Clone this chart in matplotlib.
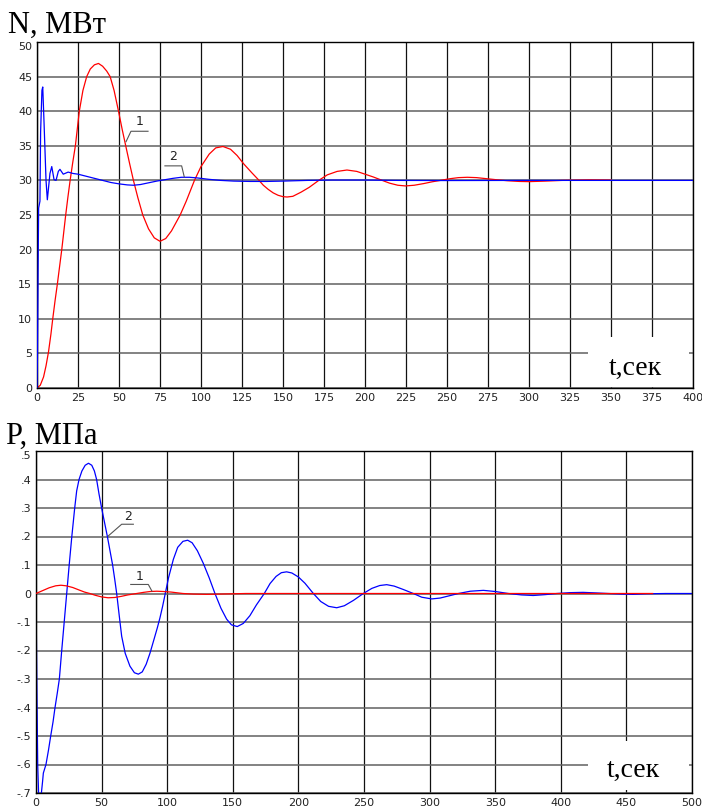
import matplotlib
matplotlib.use("Agg")
import matplotlib.pyplot as plt
from matplotlib.patches import Rectangle

# ---------------- data: top panel (N, MW) ----------------
n_x_ticks = list(range(0, 401, 25))
n_y_ticks = list(range(0, 51, 5))

n1_t = [0, 2, 4, 5.5, 7, 8.5, 9.6, 11, 12.4, 13.8, 15.1, 16.3, 17.5, 18.8, 20.2, 21.8,
        23.4, 24.6, 25.8, 28, 30.3, 32.5, 35, 37.5, 40, 42.5, 44.6, 47, 49.7, 52, 54.1,
        56.5, 58.8, 61.5, 64.5, 68, 71.5, 75, 78.5, 82, 87.3, 91, 96, 100, 105, 109,
        113.4, 118, 122, 126, 131, 135, 138, 141, 144, 147, 150, 152.5, 156, 161, 166,
        171.8, 177, 183, 189, 195, 200, 205, 210.5, 215, 220, 224.7, 230, 236, 241, 246,
        252, 257, 262.4, 268, 274, 280, 287, 294, 300, 310, 320, 337, 350]
n1_v = [0, 0.4, 1.6, 3.2, 5.2, 7.8, 10, 12.6, 15, 17.6, 20, 22.5, 25, 27.5, 30, 32.6,
        35, 37.5, 40, 43, 45, 46.1, 46.7, 46.9, 46.5, 45.8, 45.0, 43.0, 40.0, 37.3, 35.0,
        32.4, 30.0, 27.5, 25.0, 23.0, 21.7, 21.2, 21.6, 22.7, 25.0, 27.0, 30.0, 32.0,
        33.8, 34.7, 34.9, 34.5, 33.6, 32.4, 31.1, 30.1, 29.3, 28.7, 28.2, 27.85, 27.65,
        27.6, 27.7, 28.3, 29.0, 30.0, 30.8, 31.3, 31.5, 31.3, 30.9, 30.5, 30.0, 29.6,
        29.3, 29.2, 29.3, 29.55, 29.8, 30.0, 30.25, 30.4, 30.45, 30.4, 30.25, 30.1, 29.95,
        29.85, 29.82, 29.9, 30.0, 30.08, 30.05]

n2_t = [0, 0.3, 0.7, 1.0, 1.8, 2.2, 3.0, 3.5, 4.3, 5.5, 6.3, 7.9, 9.0, 10.4, 11.6, 13.0,
        14.0, 16.0, 19.0, 22, 25, 30, 35, 40, 45, 50, 55, 58.8, 63, 68, 73, 78, 83, 88,
        93, 98, 105, 112, 120, 130, 140, 150, 165, 180, 200, 220, 250, 300, 350, 400]
n2_v = [0, 5, 18, 26, 27, 37, 43, 43.5, 38.3, 30, 27.2, 31, 32, 30.1, 30, 31.3,
        31.6, 30.9, 31.2, 31.0, 30.9, 30.6, 30.3, 30.0, 29.7, 29.5, 29.35, 29.3, 29.4,
        29.65, 29.9, 30.1, 30.3, 30.45, 30.45, 30.35, 30.15, 30.0, 29.9, 29.85, 29.85,
        29.9, 30.0, 30.05, 30.05, 30.0, 29.98, 30.0, 30.0, 30.0]

# ---------------- data: bottom panel (P, MPa) ----------------
p_x_ticks = list(range(0, 501, 50))
p_y_ticks = [0.5, 0.4, 0.3, 0.2, 0.1, 0.0, -0.1, -0.2, -0.3, -0.4, -0.5, -0.6, -0.7]
p_y_labels = [".5", ".4", ".3", ".2", ".1", "0", "-.1", "-.2", "-.3", "-.4", "-.5", "-.6", "-.7"]

p1_t = [0, 5, 10, 15, 19, 23, 28, 33, 37, 41, 45, 50, 55, 60, 65, 70, 76.7, 82, 87, 92,
        97, 103, 112, 120, 130, 140, 160, 200, 300, 400, 470]
p1_v = [0, 0.01, 0.02, 0.027, 0.029, 0.027, 0.021, 0.012, 0.005, 0.0, -0.006, -0.012,
        -0.015, -0.014, -0.010, -0.005, 0.0, 0.004, 0.007, 0.008, 0.007, 0.005, 0.0,
        -0.002, -0.003, -0.002, 0.0, 0.0, 0.0, 0.0, 0.0]

p2_t = [0, 0.6, 1.3, 2.0, 4.0, 5.0, 5.6, 7.6, 9.5, 11.2, 13, 14.5, 16.2, 17.8, 19.6,
        21.5, 23.4, 25.3, 27.3, 29.5, 31, 32.8, 35, 37.5, 40, 42.5, 44.5, 46.2, 48, 50,
        52.2, 54.4, 56.4, 58.4, 60, 61.5, 63.5, 65.3, 68, 71.6, 75, 78, 81, 84, 86.9, 90,
        92.5, 94.5, 96.5, 98.3, 101, 104.7, 108, 112, 115.6, 119, 123, 127.5, 132, 136.4,
        141, 145.3, 149, 153.4, 158, 163, 168, 174, 178.4, 183, 187, 191, 195, 200, 205,
        211.4, 217, 223, 229.2, 235, 242, 249.5, 256, 262, 267.3, 273, 280, 287.6, 294,
        301.6, 308, 315, 322, 331, 341, 350, 360, 370, 379, 388, 397, 407, 417, 427, 436,
        446, 455, 465, 480, 500]
p2_v = [0, -0.3, -0.6, -0.705, -0.705, -0.66, -0.63, -0.60, -0.55, -0.50, -0.45, -0.40,
        -0.35, -0.30, -0.20, -0.10, 0.0, 0.10, 0.20, 0.30, 0.36, 0.40, 0.43, 0.45, 0.457,
        0.45, 0.43, 0.40, 0.35, 0.30, 0.25, 0.20, 0.15, 0.10, 0.05, 0.0, -0.08, -0.15,
        -0.21, -0.255, -0.278, -0.283, -0.275, -0.248, -0.209, -0.16, -0.12, -0.085,
        -0.045, -0.005, 0.055, 0.12, 0.162, 0.183, 0.187, 0.178, 0.150, 0.106, 0.055, 0.0,
        -0.052, -0.09, -0.11, -0.116, -0.105, -0.078, -0.04, 0.0, 0.035, 0.06, 0.073,
        0.076, 0.072, 0.058, 0.036, 0.0, -0.028, -0.045, -0.05, -0.043, -0.024, 0.0, 0.018,
        0.028, 0.031, 0.026, 0.014, 0.0, -0.013, -0.019, -0.016, -0.008, 0.0, 0.008, 0.011,
        0.007, 0.0, -0.005, -0.007, -0.004, 0.0, 0.003, 0.004, 0.002, 0.0, -0.002, -0.003,
        -0.001, 0.0, 0.0]

# ---------------- figure ----------------
W, H = 702, 809
fig = plt.figure(figsize=(W / 100, H / 100), dpi=100)
fig.patch.set_facecolor("white")


def fx(px):
    return px / W


def fy(py):
    return 1 - py / H


def style_axes(ax):
    ax.set_axisbelow(True)
    ax.xaxis.grid(True, color="#111111", lw=0.9)
    ax.yaxis.grid(True, color="#606060", lw=1.1)
    for s in ax.spines.values():
        s.set_color("black")
        s.set_linewidth(1.0)
    ax.tick_params(length=0, pad=3.5, labelsize=8, labelcolor="#222222")
    for lab in ax.get_xticklabels() + ax.get_yticklabels():
        lab.set_family("DejaVu Sans")


# ---- top panel ----
ax1 = fig.add_axes([fx(37), fy(388), fx(693) - fx(37), fy(42) - fy(388)])
ax1.plot(n1_t, n1_v, color="#ff0000", lw=0.9, zorder=2)
ax1.plot(n2_t, n2_v, color="#0000ff", lw=0.9, zorder=3)
ax1.set_xlim(0, 400)
ax1.set_ylim(0, 50)
ax1.set_xticks(n_x_ticks)
ax1.set_yticks(n_y_ticks)
style_axes(ax1)
ax1.get_yticklabels()[-1].set_verticalalignment("top")
ax1.add_patch(Rectangle((336, 0.15), 61.8, 7.2, facecolor="white", edgecolor="none", zorder=1))

# labels 1 and 2 with leaders (top)
ax1.plot([54.3, 57.3, 67.7], [35.6, 37.1, 37.1], color="#555555", lw=0.8, zorder=4)
ax1.text(62.8, 37.6, "1", fontsize=9, color="#222222", ha="center", va="bottom", zorder=4)
ax1.plot([78.0, 88.2, 89.8], [32.1, 32.1, 30.5], color="#555555", lw=0.8, zorder=4)
ax1.text(83.0, 32.5, "2", fontsize=9, color="#222222", ha="center", va="bottom", zorder=4)

# ---- bottom panel ----
ax2 = fig.add_axes([fx(36), fy(793), fx(692) - fx(36), fy(451) - fy(793)])
ax2.plot(p2_t, p2_v, color="#0000ff", lw=0.9, zorder=2)
ax2.plot(p1_t, p1_v, color="#ff0000", lw=0.9, zorder=3)
ax2.set_xlim(0, 500)
ax2.set_ylim(-0.7, 0.5)
ax2.set_xticks(p_x_ticks)
ax2.set_yticks(p_y_ticks)
ax2.set_yticklabels(p_y_labels)
style_axes(ax2)
ax2.get_yticklabels()[0].set_verticalalignment("top")
ax2.add_patch(Rectangle((420.7, -0.689), 77.2, 0.172, facecolor="white", edgecolor="none", zorder=1))

ax2.plot([55.1, 65.3, 74.2], [0.202, 0.243, 0.243], color="#555555", lw=0.8, zorder=4)
ax2.text(70.1, 0.247, "2", fontsize=9, color="#222222", ha="center", va="bottom", zorder=4)
ax2.plot([88.4, 85.6, 72.2], [0.008, 0.0317, 0.0317], color="#555555", lw=0.8, zorder=4)
ax2.text(78.7, 0.036, "1", fontsize=9, color="#222222", ha="center", va="bottom", zorder=4)

# ---- titles ----
serif = "Liberation Serif"
fig.text(fx(8), fy(33), "N, МВт", family=serif, fontsize=22, color="black",
         ha="left", va="baseline")
fig.text(fx(6), fy(444), "P, МПа", family=serif, fontsize=22, color="black",
         ha="left", va="baseline")
fig.text(fx(609), fy(375), "t,сек", family=serif, fontsize=20, color="black",
         ha="left", va="baseline")
fig.text(fx(607), fy(777), "t,сек", family=serif, fontsize=20, color="black",
         ha="left", va="baseline")

fig.savefig("out.png", dpi=100, facecolor="white")
